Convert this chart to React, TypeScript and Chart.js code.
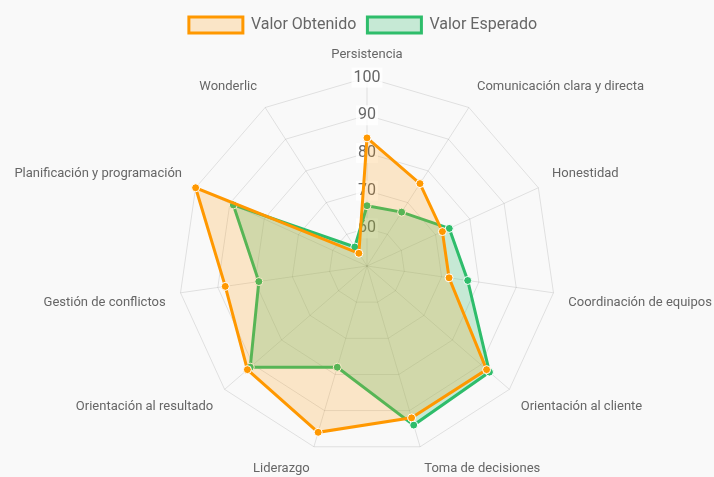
import React, { useEffect, useRef } from "react";
import { Chart, registerables } from "chart.js";

Chart.register(...registerables);

const categories = [
  "Persistencia",
  "Comunicación clara y directa",
  "Honestidad",
  "Coordinación de equipos",
  "Orientación al cliente",
  "Toma de decisiones",
  "Liderazgo",
  "Orientación al resultado",
  "Gestión de conflictos",
  "Planificación y programación",
  "Wonderlic",
];

const valorObtenido = [84, 76, 72, 72, 92, 92, 96, 92, 88, 100, 54];
const valorEsperado = [66, 67, 74, 77, 93, 94, 78, 91, 79, 89, 56];

const scaleMin = 50;
const scaleMax = 100;
const scaleStep = 10;

export default function App() {
  const ref = useRef<HTMLCanvasElement | null>(null);

  useEffect(() => {
    document.body.style.background = "#f9f9f9";
    document.body.style.margin = "0";
    document.body.style.overflow = "hidden";
    document.documentElement.style.overflow = "hidden";
    const ctx = ref.current!.getContext("2d")!;
    const chart = new Chart(ctx, {
      type: "radar",
      data: {
        labels: categories,
        datasets: [
          {
            label: "Valor Obtenido",
            data: valorObtenido,
            borderColor: "#ff9800",
            backgroundColor: "rgba(255,152,0,0.2)",
            borderWidth: 3,
            pointBackgroundColor: "#ff9800",
            pointBorderColor: "#ffffff",
            pointBorderWidth: 1,
            pointRadius: 4,
          },
          {
            label: "Valor Esperado",
            data: valorEsperado,
            borderColor: "#2ebd6b",
            backgroundColor: "rgba(46,189,107,0.25)",
            borderWidth: 3,
            pointBackgroundColor: "#2ebd6b",
            pointBorderColor: "#ffffff",
            pointBorderWidth: 1,
            pointRadius: 4,
          },
        ],
      },
      options: {
        animation: false,
        responsive: true,
        maintainAspectRatio: false,
        plugins: {
          legend: {
            position: "top",
            labels: {
              color: "#666",
              font: { family: "Roboto", size: 16 },
              boxWidth: 54,
              padding: 11,
            },
          },
          tooltip: { enabled: false },
        },
        scales: {
          r: {
            min: scaleMin,
            max: scaleMax,
            ticks: {
              stepSize: scaleStep,
              color: "#666",
              font: { family: "Roboto", size: 16 },
              backdropColor: "rgba(255,255,255,0.75)",
            },
            grid: { color: "rgba(0,0,0,0.1)" },
            angleLines: { color: "rgba(0,0,0,0.1)" },
            pointLabels: {
              color: "#666",
              font: { family: "Roboto", size: 13 },
            },
          },
        },
      },
    });
    return () => chart.destroy();
  }, []);

  return (
    <div
      style={{
        width: "714px",
        height: "475px",
        position: "relative",
        left: "6px",
        top: "6px",
      }}
    >
      <canvas ref={ref} />
    </div>
  );
}
